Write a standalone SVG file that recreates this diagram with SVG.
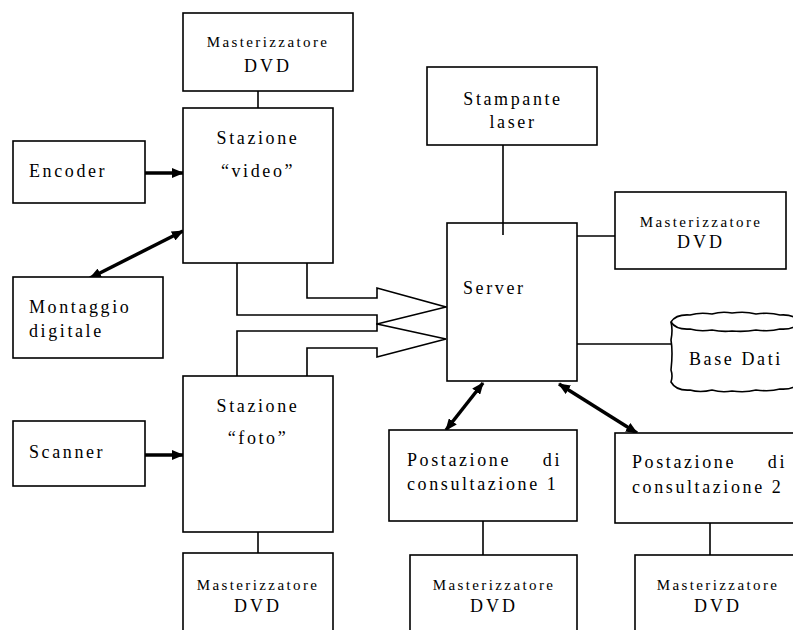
<svg xmlns="http://www.w3.org/2000/svg" width="793" height="630" viewBox="0 0 793 630">
<style>
.box{fill:#fff;stroke:#000;stroke-width:1.6}
.ln{fill:none;stroke:#000;stroke-width:1.6}
.ar{fill:none;stroke:#000;stroke-width:3.5}
.blk{fill:#fff;stroke:#000;stroke-width:1.6;stroke-linejoin:miter}
text{font-family:"Liberation Serif","Times New Roman",serif;fill:#000;font-size:18px;letter-spacing:2.6px}
.c{text-anchor:middle}
.s{font-size:15px;letter-spacing:2.4px}
.d{font-size:18px;letter-spacing:3px}
</style>
<defs>
<marker id="ah" viewBox="0 0 12 10" refX="11" refY="5" markerWidth="12" markerHeight="10" markerUnits="userSpaceOnUse" orient="auto-start-reverse">
<path d="M0,0 L12,5 L0,10 Z" fill="#000"/>
</marker>
</defs>
<rect width="793" height="630" fill="#fff"/>

<g id="connectors">
<line class="ln" x1="258" y1="91" x2="258" y2="108"/>
<line class="ln" x1="258" y1="532" x2="258" y2="553"/>
<line class="ln" x1="503" y1="145" x2="503" y2="235"/>
<line class="ln" x1="577" y1="236" x2="615" y2="236"/>
<line class="ln" x1="577" y1="344" x2="671" y2="344"/>
<line class="ln" x1="483" y1="521" x2="483" y2="555"/>
<line class="ln" x1="710" y1="523" x2="710" y2="555"/>
<line class="ar" x1="145" y1="173" x2="183" y2="173" marker-end="url(#ah)"/>
<line class="ar" x1="145" y1="455" x2="183" y2="455" marker-end="url(#ah)"/>
<line class="ar" x1="90" y1="278" x2="183" y2="231" marker-start="url(#ah)" marker-end="url(#ah)"/>
<line class="ar" x1="483" y1="383" x2="446" y2="430" marker-start="url(#ah)" marker-end="url(#ah)"/>
<line class="ar" x1="559" y1="384" x2="637" y2="433" marker-start="url(#ah)" marker-end="url(#ah)"/>
<polygon class="blk" points="237,262 307,262 307,298 377,298 377,288 446,307 377,324 377,315 237,315"/>
<polygon class="blk" points="237,377 237,331 377,331 377,324 446,339 377,357 377,348 307,348 307,377"/>
</g>

<g id="dvd_top">
<rect class="box" x="183" y="13" width="170" height="78"/>
<text class="c s" x="268" y="47">Masterizzatore</text>
<text class="c d" x="268" y="72">DVD</text>
</g>

<g id="stazione_video">
<rect class="box" x="183" y="108" width="150" height="155"/>
<text class="c" x="258" y="144">Stazione</text>
<text class="c" x="258" y="177">“video”</text>
</g>

<g id="encoder">
<rect class="box" x="13" y="141" width="132" height="62"/>
<text x="29" y="177">Encoder</text>
</g>

<g id="montaggio">
<rect class="box" x="13" y="277" width="150" height="81"/>
<text x="29" y="313">Montaggio</text>
<text x="29" y="337">digitale</text>
</g>

<g id="stazione_foto">
<rect class="box" x="183" y="376" width="150" height="156"/>
<text class="c" x="258" y="412">Stazione</text>
<text class="c" x="258" y="444">“foto”</text>
</g>

<g id="scanner">
<rect class="box" x="13" y="421" width="132" height="65"/>
<text x="29" y="458">Scanner</text>
</g>

<g id="dvd_foto">
<rect class="box" x="183" y="553" width="150" height="90"/>
<text class="c s" x="258" y="590">Masterizzatore</text>
<text class="c d" x="258" y="612">DVD</text>
</g>

<g id="stampante">
<rect class="box" x="427" y="67" width="170" height="78"/>
<text class="c" x="513" y="105">Stampante</text>
<text class="c" x="513" y="128">laser</text>
</g>

<g id="server">
<rect class="box" x="447" y="223" width="130" height="158"/>
<line class="ln" x1="503" y1="223" x2="503" y2="235"/>
<text x="463" y="294">Server</text>
</g>

<g id="dvd_server">
<rect class="box" x="615" y="192" width="171" height="77"/>
<text class="c s" x="701" y="227">Masterizzatore</text>
<text class="c d" x="701" y="248">DVD</text>
</g>

<g id="base_dati">
<path class="box" d="M671,322 Q676,314 690,315 Q700,312 712,314 Q722,311 732,313 Q745,311 756,314 Q770,312 780,315 Q795,314 798,322 L798,382 Q795,390 780,389 Q770,392 756,390 Q745,393 732,391 Q722,393 712,390 Q700,393 690,390 Q676,391 671,382 Q673,376 671,370 Q673,352 671,340 Q673,330 671,322 Z"/>
<path class="ln" d="M671,322 Q676,330 690,329 Q700,332 712,330 Q722,332 732,331 Q745,332 756,330 Q770,332 780,329 Q795,330 798,322"/>
<text x="689" y="365">Base Dati</text>
</g>

<g id="postazione1">
<rect class="box" x="389" y="430" width="188" height="91"/>
<text x="407" y="466">Postazione</text>
<text x="562" y="466" text-anchor="end">di</text>
<text x="407" y="490">consultazione 1</text>
</g>

<g id="postazione2">
<rect class="box" x="615" y="433" width="185" height="90"/>
<text x="632" y="468">Postazione</text>
<text x="787" y="468" text-anchor="end">di</text>
<text x="632" y="493">consultazione 2</text>
</g>

<g id="dvd_p1">
<rect class="box" x="410" y="555" width="167" height="90"/>
<text class="c s" x="494" y="590">Masterizzatore</text>
<text class="c d" x="494" y="612">DVD</text>
</g>

<g id="dvd_p2">
<rect class="box" x="635" y="555" width="170" height="90"/>
<text class="c s" x="718" y="590">Masterizzatore</text>
<text class="c d" x="718" y="612">DVD</text>
</g>
</svg>
